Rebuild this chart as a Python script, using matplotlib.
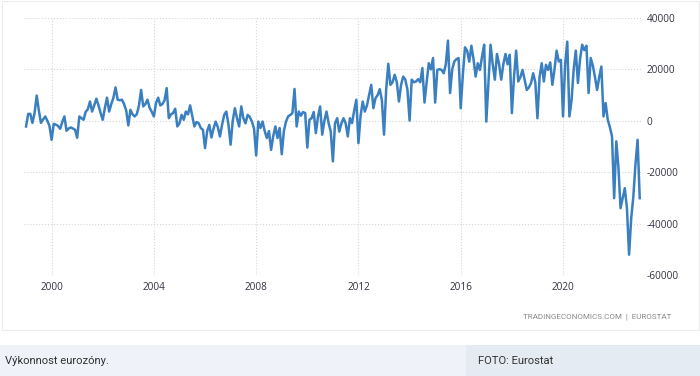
import numpy as np
import matplotlib
matplotlib.use('Agg')
import matplotlib.pyplot as plt
from matplotlib.patches import Rectangle

plt.rcParams['axes.unicode_minus'] = False

# Euro area trade balance, EUR million, monthly from Jan 1999 to Jan 2023
v1999 = [-2200, 2700, 2700, -800, 3000, 9800, 4000, -800, 500, 1700, 0, -2000]
v2000 = [-7400, -1200, -1500, -2000, -3100, -500, 1700, -3900, -3000, -2600, -3000, -3500]
v2001 = [-6600, 1700, 1000, 400, 3500, 4500, 7500, 3600, 6000, 8600, 6000, 3000]
v2002 = [400, 5000, 9000, 3600, 6500, 9000, 13000, 8200, 8000, 8200, 6500, 4000]
v2003 = [-1800, 4300, 2500, 1700, 2600, 6000, 12000, 5600, 6500, 8200, 5000, 3500]
v2004 = [1700, 7000, 9000, 6000, 6500, 8000, 12700, 1000, 2500, 3000, 4700, -2200]
v2005 = [-1000, 2300, 400, 3600, 2500, 6000, 2000, -2200, -500, -900, -2800, -3500]
v2006 = [-10600, -4000, -1600, -6500, -3000, -300, -2500, -6100, -1500, 2300, 3600, -1500]
v2007 = [-9300, 0, 4900, 1000, -2200, 5600, 1000, -1000, 2300, 1500, -300, -3000]
v2008 = [-13500, -300, -2800, -300, -4000, -6700, -4000, -11300, -6000, -2200, -6700, -2800]
v2009 = [-13000, -4000, -300, 1700, 2300, 3000, 12400, -2200, 3600, 2000, 3400, 3000]
v2010 = [-10400, 400, 1000, 3400, -4800, 1500, 5600, -5400, 0, 3600, -900, -4200]
v2011 = [-15800, -1000, 1000, -4200, -1000, 1000, -1000, -6100, 1000, -900, 4000, 8200]
v2012 = [-8700, 2000, 7500, 3600, 6000, 10000, 14000, 4900, 8800, 10000, 12300, 8000]
v2013 = [-5400, 12000, 22200, 14000, 15000, 17900, 15000, 7500, 14000, 17200, 16000, 12000]
v2014 = [100, 16000, 15000, 15300, 16200, 15000, 20500, 7100, 15000, 22400, 20000, 24400]
v2015 = [7100, 19800, 20100, 19800, 18500, 22000, 31200, 10800, 20000, 23100, 24000, 24400]
v2016 = [4900, 18000, 28600, 27300, 23000, 29200, 24000, 17200, 22400, 19800, 25000, 29600]
v2017 = [-300, 15000, 29600, 22000, 16000, 26000, 22000, 16000, 22000, 26000, 22000, 25700]
v2018 = [3000, 17000, 27300, 15300, 17000, 19800, 16000, 12000, 13000, 14700, 18500, 15000]
v2019 = [1000, 17000, 22400, 15300, 21800, 19800, 22700, 14000, 20000, 27300, 23100, 23700]
v2020 = [1700, 22000, 30800, 1700, 8000, 20000, 27300, 14700, 24000, 29600, 27500, 29200]
v2021 = [10800, 24400, 21500, 17000, 12000, 17000, 21100, 1700, 6900, 400, -2500, -6100]
v2022 = [-30100, -8000, -18000, -34000, -30000, -26200, -34000, -52100, -38000, -29500, -17000, -7400]
v2023 = [-30100]

values = (v1999 + v2000 + v2001 + v2002 + v2003 + v2004 + v2005 + v2006 + v2007 + v2008
          + v2009 + v2010 + v2011 + v2012 + v2013 + v2014 + v2015 + v2016 + v2017 + v2018
          + v2019 + v2020 + v2021 + v2022 + v2023)
years = 1999 + np.arange(len(values)) / 12.0

xticks = [2000, 2004, 2008, 2012, 2016, 2020]
yticks = [-60000, -40000, -20000, 0, 20000, 40000]

fig = plt.figure(figsize=(7, 3.76), dpi=100)
fig.patch.set_facecolor('white')

# card border and caption band
fig.add_artist(Rectangle((2 / 700, 1 - 330 / 376), 697 / 700, 329 / 376, transform=fig.transFigure,
                         facecolor='white', edgecolor='#ececec', linewidth=0.8, zorder=0))
fig.add_artist(Rectangle((0, 0), 466 / 700, 31 / 376, transform=fig.transFigure,
                         facecolor='#eff3f9', edgecolor='none', zorder=0))
fig.add_artist(Rectangle((466 / 700, 0), 234 / 700, 31 / 376, transform=fig.transFigure,
                         facecolor='#e5ebf3', edgecolor='none', zorder=0))

ax = fig.add_axes([24 / 700, 1 - 275 / 376, 617 / 700, 257 / 376])
ax.set_facecolor('none')
ax.plot(years, values, color='#3a7fc0', linewidth=1.8, solid_joinstyle='round')

ax.set_xlim(1998.92, 2023.05)
ax.set_ylim(-60000, 40000)
ax.set_xticks(xticks)
ax.set_xticklabels([str(y) for y in xticks], fontfamily='Open Sans')
ax.set_yticks(yticks)
ax.set_yticklabels([str(y) for y in yticks], fontfamily='Open Sans')
ax.yaxis.tick_right()
ax.tick_params(axis='y', length=0, pad=4, labelsize=7.2, labelcolor='#333344')
ax.tick_params(axis='x', length=0, pad=5, labelsize=7.2, labelcolor='#333344')
for s in ax.spines.values():
    s.set_visible(False)
ax.grid(True, color='#d6d6d6', linestyle=':', linewidth=0.8)

fig.text(671 / 700, 1 - 317 / 376, 'TRADINGECONOMICS.COM  |  EUROSTAT', ha='right', va='center',
         fontsize=5.8, color='#8a8a8a', fontfamily='Roboto')
fig.text(5 / 700, 1 - 361 / 376, 'Výkonnost eurozóny.', ha='left', va='center',
         fontsize=8.1, color='#333333', fontfamily='Roboto')
fig.text(478 / 700, 1 - 361 / 376, 'FOTO: Eurostat', ha='left', va='center',
         fontsize=8.1, color='#333333', fontfamily='Roboto')

fig.savefig('out.png', dpi=100)
